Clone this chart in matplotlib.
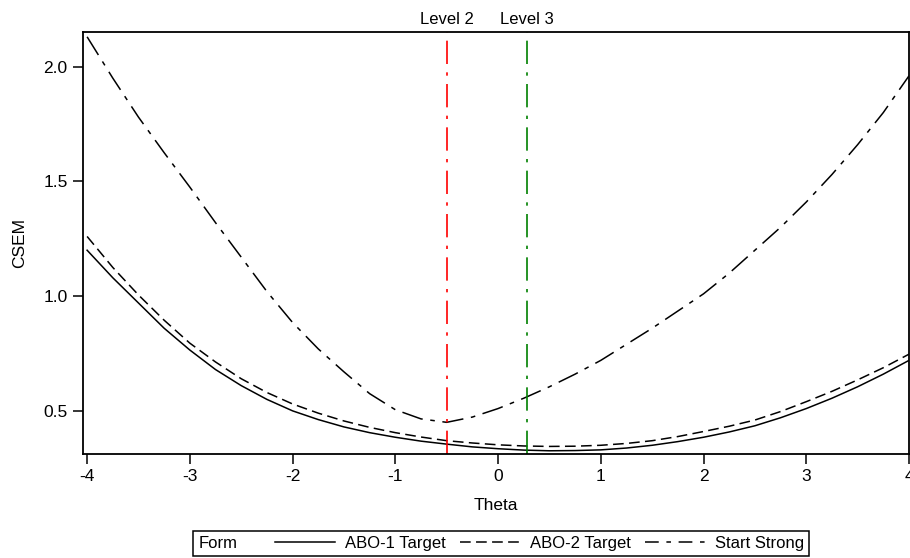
import matplotlib
matplotlib.use("Agg")
import matplotlib.pyplot as plt
from matplotlib.lines import Line2D
from matplotlib.offsetbox import HPacker

plt.rcParams['font.family'] = ['Liberation Sans', 'DejaVu Sans']
plt.rcParams['axes.unicode_minus'] = False

# values
theta = [-4, -3.75, -3.5, -3.25, -3, -2.75, -2.5, -2.25, -2, -1.75, -1.5, -1.25, -1, -0.75,
         -0.5, -0.25, 0, 0.25, 0.5, 0.75, 1, 1.25, 1.5, 1.75, 2, 2.25, 2.5, 2.75, 3, 3.25,
         3.5, 3.75, 4]
abo1 = [1.20, 1.08, 0.97, 0.86, 0.765, 0.68, 0.61, 0.55, 0.50, 0.462, 0.43, 0.405, 0.385, 0.368,
        0.355, 0.343, 0.335, 0.329, 0.326, 0.327, 0.33, 0.338, 0.35, 0.366, 0.385, 0.408, 0.435, 0.47,
        0.51, 0.555, 0.605, 0.66, 0.72]
abo2 = [1.26, 1.125, 1.005, 0.895, 0.795, 0.713, 0.64, 0.58, 0.53, 0.49, 0.456, 0.428, 0.405, 0.386,
        0.37, 0.36, 0.352, 0.347, 0.345, 0.346, 0.35, 0.358, 0.37, 0.388, 0.41, 0.433, 0.46, 0.497,
        0.54, 0.585, 0.635, 0.688, 0.747]
start = [2.13, 1.95, 1.78, 1.625, 1.475, 1.32, 1.17, 1.02, 0.885, 0.77, 0.67, 0.575, 0.505, 0.465,
         0.45, 0.473, 0.51, 0.555, 0.605, 0.66, 0.72, 0.79, 0.86, 0.935, 1.01, 1.10, 1.20, 1.30,
         1.41, 1.53, 1.66, 1.80, 1.96]
cut_names = ["Level 2", "Level 3"]
cut_vals = [-0.5, 0.28]
cut_colors = ["#ff0000", "#008000"]

fig = plt.figure(figsize=(9.1, 5.58), dpi=100)
ax = fig.add_axes([83/910, 1-454/558, 826/910, (454-32)/558])

ax.plot(theta, abo1, color='black', lw=1.1, label='ABO-1 Target')
ax.plot(theta, abo2, color='black', lw=1.1, dashes=(7, 3.5), label='ABO-2 Target')
ax.plot(theta, start, color='black', lw=1.1, dashes=(14, 5, 3, 5), label='Start Strong')

for nm, v, c in zip(cut_names, cut_vals, cut_colors):
    ax.axvline(v, color=c, lw=1.2, dashes=(14, 5, 2, 5), dash_capstyle='butt')
    ax.text(v, 1.012, nm, transform=ax.get_xaxis_transform(), ha='center', va='bottom', fontsize=12)

ax.set_xlim(-4.04, 4.0)
ax.set_ylim(0.312, 2.151)
ax.set_xticks([-4, -3, -2, -1, 0, 1, 2, 3, 4])
ax.set_yticks([0.5, 1.0, 1.5, 2.0])
ax.set_yticklabels(['0.5', '1.0', '1.5', '2.0'])
ax.tick_params(direction='out', length=7, width=1.1, labelsize=12.5, pad=4)
for s in ax.spines.values():
    s.set_linewidth(1.3)
ax.set_xlabel('Theta', fontsize=12.5, labelpad=10)
ax.set_ylabel('CSEM', fontsize=12.5, labelpad=12)

handles = [Line2D([], [], color='black', lw=1.1),
           Line2D([], [], color='black', lw=1.1, dashes=(7, 3.5)),
           Line2D([], [], color='black', lw=1.1, dashes=(9, 5, 3, 5))]
leg = fig.legend(handles, ['ABO-1 Target', 'ABO-2 Target', 'Start Strong'], ncol=3,
                 title='Form', loc='lower center', bbox_to_anchor=(0.5505, 0.004),
                 borderaxespad=0, fontsize=12, title_fontsize=12, handlelength=3.6,
                 handletextpad=0.6, columnspacing=0.85, borderpad=0.3,
                 fancybox=False, edgecolor='black', framealpha=1)
leg.get_frame().set_linewidth(1.1)
# put the "Form" title on the left of the entries, like the original
old = leg._legend_box
leg._legend_box = HPacker(pad=old.pad, sep=27, align='center',
                          children=[leg._legend_title_box, leg._legend_handle_box])
leg._legend_box.set_figure(fig)
leg._legend_box.set_offset(leg._findoffset)

fig.savefig('out.png', dpi=100)
